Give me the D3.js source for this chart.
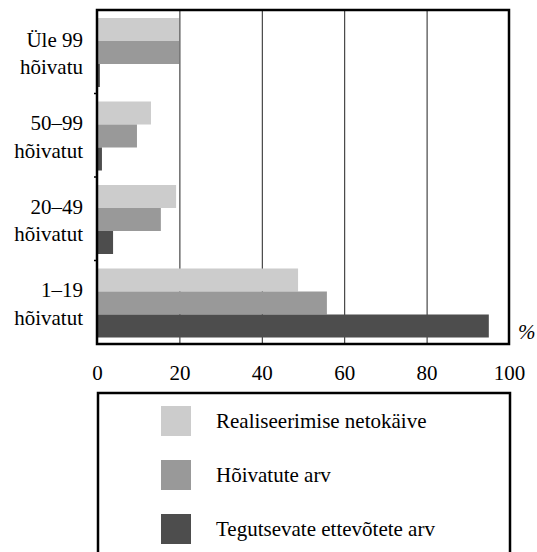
<!DOCTYPE html>
<html>
<head>
<meta charset="utf-8">
<script src="https://cdn.jsdelivr.net/npm/d3@7/dist/d3.min.js"></script>
<style>
  html, body { margin: 0; padding: 0; background: #fff; }
  svg { display: block; }
</style>
</head>
<body>
<svg id="chart" width="537" height="552"></svg>
<script>
const categories = ["Üle 99|hõivatu", "50–99|hõivatut", "20–49|hõivatut", "1–19|hõivatut"];
const seriesNames = ["Realiseerimise netokäive", "Hõivatute arv", "Tegutsevate ettevõtete arv"];
const seriesColors = ["#cccccc", "#999999", "#4d4d4d"];
const netokaive = [19.9, 13.1, 19.2, 48.8];
const hoivatud = [19.9, 9.7, 15.5, 55.8];
const ettevotted = [0.7, 1.2, 3.9, 95.1];
const xTicks = [0, 20, 40, 60, 80, 100];

const seriesValues = [netokaive, hoivatud, ettevotted];
const FONT = "'Liberation Serif', 'DejaVu Serif', serif";

const svg = d3.select("#chart").attr("font-family", FONT);
const pLeft = 97, pRight = 509, pTop = 10, pBottom = 344;

const x = d3.scaleLinear().domain([0, 100]).range([pLeft, pRight]);
const y = d3.scaleBand().domain(categories).range([pTop, pBottom]).padding(0);
const ySub = d3.scaleBand().domain(d3.range(seriesNames.length)).range([8, 77]).padding(0);

// gridlines
svg.append("g").selectAll("line").data(xTicks.filter(d => d > 0 && d < 100)).join("line")
  .attr("x1", d => x(d) + 0.5).attr("x2", d => x(d) + 0.5)
  .attr("y1", pTop).attr("y2", pBottom)
  .attr("stroke", "#222").attr("stroke-width", 1);

// bars
seriesValues.forEach((vals, si) => {
  svg.append("g").selectAll("rect").data(categories).join("rect")
    .attr("x", x(0))
    .attr("y", (c) => y(c) + ySub(si))
    .attr("width", (c, i) => x(vals[i]) - x(0))
    .attr("height", ySub.bandwidth())
    .attr("fill", seriesColors[si]);
});

// frame
svg.append("rect")
  .attr("x", pLeft).attr("y", pTop)
  .attr("width", pRight - pLeft).attr("height", pBottom - pTop)
  .attr("fill", "none").attr("stroke", "#000").attr("stroke-width", 2.5);

// left axis ticks at category boundaries
const bounds = categories.slice(1).map(c => y(c));
svg.append("g").selectAll("line").data(bounds).join("line")
  .attr("x1", pLeft - 3).attr("x2", pLeft)
  .attr("y1", d => d).attr("y2", d => d)
  .attr("stroke", "#000").attr("stroke-width", 1.5);

// bottom axis via d3
const xAxis = d3.axisBottom(x).tickValues(xTicks).tickSize(0).tickPadding(0);
const gx = svg.append("g").attr("transform", `translate(0,${pBottom})`).call(xAxis)
  .attr("font-family", FONT).attr("font-size", 21);
gx.select(".domain").remove();
gx.selectAll("text")
  .attr("dy", null).attr("y", 36)
  .attr("fill", "#000")
  .attr("font-family", FONT)
  .style("font-family", FONT)
  .style("font-size", "21px");

// category labels
const catG = svg.append("g").attr("font-family", FONT).attr("font-size", 21);
categories.forEach(c => {
  const [l1, l2] = c.split("|");
  const cy = y(c) + y.bandwidth() / 2;
  catG.append("text").attr("x", 83).attr("y", cy - 5)
    .attr("text-anchor", "end").style("font-family", FONT).style("font-size", "21px").text(l1);
  catG.append("text").attr("x", 83).attr("y", cy + 22.5)
    .attr("text-anchor", "end").style("font-family", FONT).style("font-size", "21px").text(l2);
});

// percent sign
svg.append("text").attr("x", 518).attr("y", 339)
  .style("font-family", FONT)
  .style("font-size", "21px").style("font-style", "italic").text("%");

// legend
const lg = svg.append("g");
lg.append("rect").attr("x", 98).attr("y", 393).attr("width", 412).attr("height", 170)
  .attr("fill", "none").attr("stroke", "#000").attr("stroke-width", 2.5);
seriesNames.forEach((name, i) => {
  const yy = 406 + i * 54;
  lg.append("rect").attr("x", 161).attr("y", yy).attr("width", 30).attr("height", 30)
    .attr("fill", seriesColors[i]);
  lg.append("text").attr("x", 216).attr("y", yy + 22)
    .style("font-family", FONT)
    .style("font-size", "21px").text(name);
});
</script>
</body>
</html>
